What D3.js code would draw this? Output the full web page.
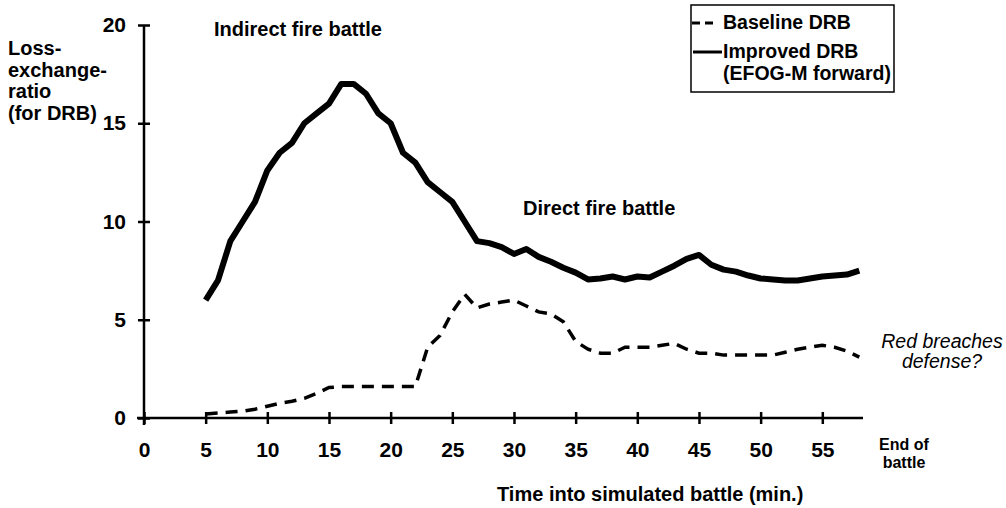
<!DOCTYPE html>
<html>
<head>
<meta charset="utf-8">
<script src="https://cdn.jsdelivr.net/npm/d3@7"></script>
<style>
  body { margin: 0; background: #fff; }
  svg text { font-family: "Liberation Sans", Arial, sans-serif; font-weight: bold; fill: #000; }
</style>
</head>
<body>
<div id="chart"></div>
<script>
// minutes into the simulated battle
var minutes = [5, 6, 7, 8, 9, 10, 11, 12, 13, 14, 15, 16, 17, 18, 19, 20, 21, 22, 23, 24,
               25, 26, 27, 28, 29, 30, 31, 32, 33, 34, 35, 36, 37, 38, 39, 40, 41, 42, 43, 44,
               45, 46, 47, 48, 49, 50, 51, 52, 53, 54, 55, 56, 57, 58];
// improved DRB (EFOG-M forward) - solid line
var improved = [6, 7, 9, 10, 11, 12.6, 13.5, 14, 15, 15.5, 16, 17, 17, 16.5, 15.5, 15, 13.5, 13, 12, 11.5,
                11, 10, 9, 8.9, 8.7, 8.35, 8.6, 8.2, 7.95, 7.65, 7.4, 7.05, 7.1, 7.2, 7.05, 7.2, 7.15, 7.45, 7.75, 8.1,
                8.3, 7.8, 7.55, 7.45, 7.25, 7.1, 7.05, 7, 7, 7.1, 7.2, 7.25, 7.3, 7.5];
// baseline DRB - dashed line
var baseline = [0.2, 0.25, 0.3, 0.35, 0.45, 0.6, 0.75, 0.85, 1, 1.25, 1.55, 1.6, 1.6, 1.6, 1.6, 1.6, 1.6, 1.6, 3.6, 4.2,
                5.4, 6.3, 5.6, 5.8, 5.9, 6, 5.7, 5.4, 5.3, 4.9, 3.9, 3.5, 3.3, 3.3, 3.6, 3.6, 3.6, 3.7, 3.8, 3.5,
                3.3, 3.3, 3.2, 3.2, 3.2, 3.2, 3.2, 3.35, 3.5, 3.6, 3.7, 3.6, 3.4, 3.1];
var xTicks = [0, 5, 10, 15, 20, 25, 30, 35, 40, 45, 50, 55];
var yTicks = [0, 5, 10, 15, 20];
var yTitle = ["Loss-", "exchange-", "ratio", "(for DRB)"];

var width = 1006, height = 508;
var svg = d3.select("#chart").append("svg")
    .attr("width", width)
    .attr("height", height);

var x = d3.scaleLinear().domain([0, 58.3]).range([144, 863]);
var y = d3.scaleLinear().domain([0, 20]).range([418, 25]);

// x axis, ticks cross the line
var gx = svg.append("g")
    .attr("transform", "translate(0," + y(0) + ")")
    .call(d3.axisBottom(x).tickValues(xTicks).tickSize(6).tickFormat(d3.format("d")));
gx.select(".domain").remove();
gx.append("line").attr("x1", 137).attr("x2", x(58.3)).attr("stroke", "#000").attr("stroke-width", 2.5);
gx.selectAll(".tick line").attr("y1", -6).attr("y2", 6).attr("stroke-width", 2.5);
gx.selectAll(".tick text").attr("y", 39).attr("dy", 0)
    .style("font-size", "21px").style("font-family", "'Liberation Sans', Arial, sans-serif").style("font-weight", "bold");

// y axis
var gy = svg.append("g")
    .attr("transform", "translate(" + x(0) + ",0)")
    .call(d3.axisLeft(y).tickValues(yTicks).tickSize(6));
gy.select(".domain").remove();
gy.append("line").attr("y1", y(20)).attr("y2", 425).attr("stroke", "#000").attr("stroke-width", 2.5);
gy.selectAll(".tick line").attr("x1", -6).attr("x2", 6).attr("stroke-width", 2.5);
gy.selectAll(".tick text").attr("x", -18)
    .style("font-size", "21px").style("font-family", "'Liberation Sans', Arial, sans-serif").style("font-weight", "bold");

// lines
var line = function(vals) {
    return d3.line()
        .x(function(d, i) { return x(minutes[i]); })
        .y(function(d) { return y(d); })(vals);
};
svg.append("path").attr("d", line(improved))
    .attr("fill", "none").attr("stroke", "#000").attr("stroke-width", 6).attr("stroke-linejoin", "round");
svg.append("path").attr("d", line(baseline))
    .attr("fill", "none").attr("stroke", "#000").attr("stroke-width", 3.5).attr("stroke-dasharray", "12,8");

// y title
svg.append("text").attr("x", 8).attr("y", 55).style("font-size", "20px")
    .selectAll("tspan").data(yTitle).enter().append("tspan")
    .attr("x", 8).attr("dy", function(d, i) { return i ? 21.5 : 0; })
    .text(function(d) { return d; });

// annotations
svg.append("text").attr("x", 214).attr("y", 36).style("font-size", "20px").text("Indirect fire battle");
svg.append("text").attr("x", 523).attr("y", 215).style("font-size", "20px").text("Direct fire battle");
var red = svg.append("text").attr("text-anchor", "middle").style("font-size", "19.5px")
    .style("font-style", "italic").style("font-weight", "normal");
red.append("tspan").attr("x", 942).attr("y", 348).text("Red breaches");
red.append("tspan").attr("x", 942).attr("y", 368).text("defense?");
var end = svg.append("text").attr("text-anchor", "middle").style("font-size", "16px");
end.append("tspan").attr("x", 904).attr("y", 450).text("End of");
end.append("tspan").attr("x", 904).attr("y", 468).text("battle");
svg.append("text").attr("x", 497).attr("y", 501).style("font-size", "20px").text("Time into simulated battle (min.)");

// legend
var lg = svg.append("g");
lg.append("rect").attr("x", 691).attr("y", 5).attr("width", 203).attr("height", 87)
    .attr("fill", "none").attr("stroke", "#000").attr("stroke-width", 1.5);
lg.append("line").attr("x1", 692).attr("x2", 716).attr("y1", 23).attr("y2", 23)
    .attr("stroke", "#000").attr("stroke-width", 3).attr("stroke-dasharray", "8,5");
lg.append("line").attr("x1", 693).attr("x2", 722).attr("y1", 52).attr("y2", 52)
    .attr("stroke", "#000").attr("stroke-width", 3);
lg.append("text").attr("x", 723).attr("y", 29).style("font-size", "19.5px").text("Baseline DRB");
var imp = lg.append("text").style("font-size", "19.5px");
imp.append("tspan").attr("x", 723).attr("y", 58).text("Improved DRB");
imp.append("tspan").attr("x", 723).attr("y", 80).text("(EFOG-M forward)");
</script>
</body>
</html>
